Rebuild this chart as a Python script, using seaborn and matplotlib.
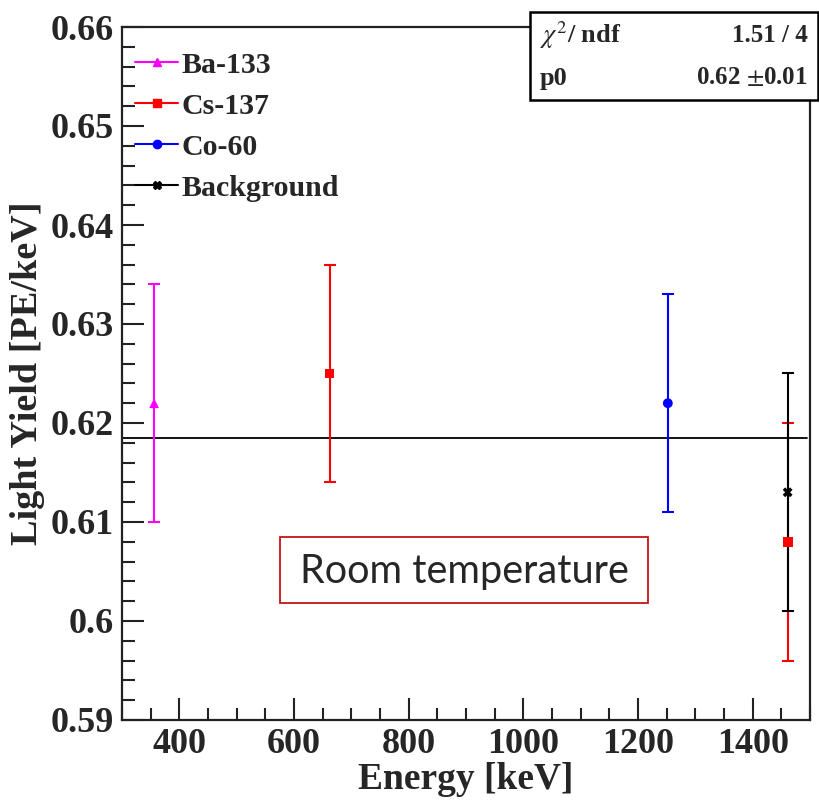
import matplotlib
matplotlib.use("Agg")
import matplotlib.pyplot as plt
from matplotlib.lines import Line2D
from matplotlib.patches import Rectangle
from matplotlib.ticker import MultipleLocator, FuncFormatter
import numpy as np
import pandas as pd
import seaborn as sns

# data
sources = ["Ba-133", "Cs-137", "Co-60", "Cs-137", "Background"]
energy = [356, 662, 1252, 1461, 1461]
light_yield = [0.622, 0.625, 0.622, 0.608, 0.613]
yield_err = [0.012, 0.011, 0.011, 0.012, 0.012]
legend_order = ["Ba-133", "Cs-137", "Co-60", "Background"]
colors = {"Ba-133": "#ff00ff", "Cs-137": "#ff0000", "Co-60": "#0000ff", "Background": "#000000"}
markers = {"Ba-133": "^", "Cs-137": "s", "Co-60": "o", "Background": "X"}
p0 = 0.6185
chi2_txt = "1.51 / 4"
p0_txt = "0.62 $\\pm$0.01"

df = pd.DataFrame({"source": sources, "energy": energy, "ly": light_yield, "err": yield_err})

sns.set_style("ticks")
plt.rcParams["font.family"] = ["Liberation Serif", "DejaVu Serif"]
plt.rcParams["mathtext.fontset"] = "stix"

fig = plt.figure(figsize=(8.2, 8.02), dpi=100)
ax = fig.add_axes([122 / 820, 1 - 720 / 802, 688 / 820, 693 / 802])

# fit line (constant p0)
ax.axhline(p0, xmin=0, xmax=0.996, color="black", lw=1.3, zorder=1)

for i, row in df.iterrows():
    ax.errorbar(row["energy"], row["ly"], yerr=row["err"], fmt="none",
                ecolor=colors[row["source"]], elinewidth=1.5, capsize=4, capthick=1.5, zorder=2)
sns.scatterplot(data=df, x="energy", y="ly", hue="source", style="source",
                palette=colors, markers=markers, s=50, edgecolor="none",
                legend=False, ax=ax, zorder=3)

ax.set_xlim(300, 1500)
ax.set_ylim(0.59, 0.66)
ax.xaxis.set_major_locator(MultipleLocator(200))
ax.xaxis.set_minor_locator(MultipleLocator(50))
ax.yaxis.set_major_locator(MultipleLocator(0.01))
ax.yaxis.set_minor_locator(MultipleLocator(0.002))
ax.yaxis.set_major_formatter(FuncFormatter(lambda v, p: "{:g}".format(round(v, 3))))
ax.tick_params(which="both", direction="in", top=False, right=False, width=1.5, color="#222222")
ax.tick_params(which="major", length=16, labelsize=26, pad=6)
ax.tick_params(which="minor", length=9)
for lab in ax.get_xticklabels() + ax.get_yticklabels():
    lab.set_fontweight("bold")
for s in ax.spines.values():
    s.set_linewidth(1.6)
    s.set_color("#222222")

ax.set_xlabel("Energy [keV]", fontsize=27, fontweight="bold")
ax.set_ylabel("Light Yield [PE/keV]", fontsize=27.5, fontweight="bold")
ax.xaxis.set_label_coords(0.5, -0.061)
ax.yaxis.set_label_coords(-0.112, 0.5)

handles = [Line2D([0], [0], color=colors[k], marker=markers[k], markersize=6, lw=1.5)
           for k in legend_order]
leg = ax.legend(handles, legend_order, loc="upper left", frameon=False,
                prop={"family": "Liberation Serif", "weight": "bold", "size": 21.5},
                handlelength=1.45, handletextpad=0.1, labelspacing=0.47,
                borderaxespad=0.0, borderpad=0.2, bbox_to_anchor=(0.01, 0.973))

# stats box
fig.patches.append(Rectangle((530 / 820, 1 - 100 / 802), 288 / 820, 88 / 802,
                             transform=fig.transFigure, facecolor="white",
                             edgecolor="black", lw=1.8, zorder=5))
fig.text(540 / 820, 1 - 35 / 802, "$\\chi^2$/ ndf", fontsize=19, fontweight="bold",
         va="center", ha="left", zorder=6)
fig.text(808 / 820, 1 - 35 / 802, chi2_txt, fontsize=18, fontweight="bold",
         va="center", ha="right", zorder=6)
fig.text(540 / 820, 1 - 78 / 802, "p0", fontsize=19, fontweight="bold",
         va="center", ha="left", zorder=6)
fig.text(808 / 820, 1 - 78 / 802, p0_txt, fontsize=18, fontweight="bold",
         va="center", ha="right", zorder=6)

# annotation box
fig.patches.append(Rectangle((280 / 820, 1 - 603 / 802), 368 / 820, 66 / 802,
                             transform=fig.transFigure, facecolor="white",
                             edgecolor="#c00000", lw=1.2, zorder=5))
fig.text(464 / 820, 1 - 572 / 802, "Room temperature", fontsize=28.5,
         family=["Lato", "DejaVu Sans"], ha="center", va="center", zorder=6)

fig.savefig("out.png", dpi=100)
